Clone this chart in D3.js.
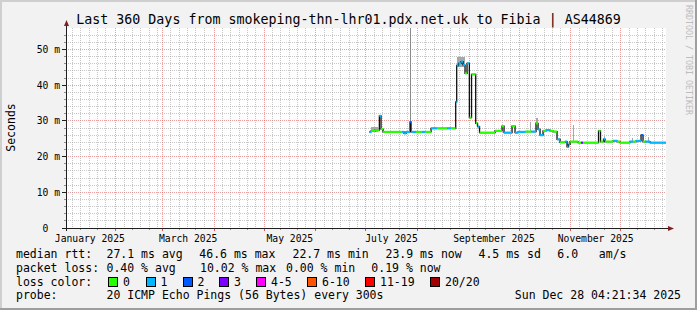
<!DOCTYPE html>
<html><head><meta charset="utf-8">
<script src="https://cdn.jsdelivr.net/npm/d3@7"></script>
<style>
html,body{margin:0;padding:0;background:#f2f2f2;}
svg{display:block;}
text{font-family:"DejaVu Sans Mono",monospace;white-space:pre;}
</style></head><body>
<svg id="chart" width="697" height="310"></svg>
<script>
// ---------------- DATA ----------------
// Time is expressed as day-of-year 2025 (Jan 1 00:00 UTC = 0)
const startDay = 1.1816;   // Jan 2 2025 04:21:34
const endDay = 361.1816;   // Dec 28 2025 04:21:34
const yMaxMs = 56;

// median RTT steps (ms), each holds until the next step starts
const stepDay = [183.0,184.2,186.6,189.2,190.2,191.4,202.8,204.0,205.2,207.6,
                 208.2,211.2,214.8,216.6,220.2,223.8,229.8,232.2,235.0,235.6,
                 236.7,238.2,239.4,240.6,241.8,243.2,244.5,247.0,248.1,249.3,
                 258.6,262.8,264.0,268.8,270.6,272.4,276.6,280.2,283.2,284.4,
                 285.6,287.4,289.2,291.6,293.4,295.8,297.6,300.6,301.8,302.7,
                 303.6,306.6,308.4,310.2,311.4,320.7,321.9,323.7,324.6,329.4,
                 331.8,333.6,339.6,341.4,343.2,346.2,347.4,348.6,351.6,354.6];
const medianMs = [26.9,27.2,27.4,31.4,27.7,26.9,26.9,26.5,26.9,29.7,
                  26.9,26.9,26.9,26.9,27.9,27.9,27.9,27.9,35.3,45.5,
                  46.1,46.6,45.6,43.3,46.1,30.9,43.0,29.3,28.4,26.7,
                  27.2,28.5,26.7,28.5,26.7,26.9,27.0,27.0,29.3,27.6,
                  26.0,27.2,27.4,27.2,27.0,24.8,24.0,24.2,22.7,23.4,
                  24.2,24.2,23.9,23.9,23.9,27.2,24.2,24.9,24.2,24.4,
                  24.2,23.9,24.2,24.2,24.4,26.0,24.2,24.2,23.9,23.9];
const lossCount = [1,0,0,1,0,0,1,1,1,2,
                   1,0,1,0,1,0,1,0,1,1,
                   1,1,1,0,1,0,0,0,1,0,
                   0,0,1,0,1,1,0,1,0,1,
                   1,0,1,0,0,1,0,1,1,1,
                   0,0,0,3,0,0,0,1,0,1,
                   0,0,1,0,1,2,0,1,1,1];

// smoke (ping spread) spots visible above the median
const smokeFrom = [184.2,207.6,236.0,279.6,283.2,305.4,324.3,340.8,350.4];
const smokeTo   = [188.4,208.0,240.6,280.2,284.4,306.0,324.9,341.4,351.0];
const smokeLo   = [26.8,26.9,45.0,27.0,29.0,24.2,24.2,24.2,24.2];
const smokeHi   = [28.3,60.0,48.0,29.8,30.8,28.8,25.7,25.3,25.6];

// loss legend
const lossLabels = ["0","1","2","3","4-5","6-10","11-19","20/20"];
const lossUpper  = [0,1,2,3,5,10,19,20];
const lossColors = ["#26ff00","#00b8ff","#0059ff","#7e00ff","#ff00ff","#ff5500","#ff0000","#a10000"];

// axes
const yTickValues = [0,10,20,30,40,50];
const yTickLabels = ["0  ","10 m","20 m","30 m","40 m","50 m"];
const xLabelMonths = [0,2,4,6,8,10];
const xLabelTexts = ["January 2025","March 2025","May 2025","July 2025","September 2025","November 2025"];

// texts
const titleText = "Last 360 Days from smokeping-thn-lhr01.pdx.net.uk to Fibia | AS44869";
const yAxisTitle = "Seconds";
const watermark = "RRDTOOL / TOBI OETIKER";
const row1 = ["median rtt:","27.1 ms avg","46.6 ms max","22.7 ms min","23.9 ms now","4.5 ms sd","6.0   am/s"];
const row2 = ["packet loss:","0.40 % avg","10.02 % max","0.00 % min","0.19 % now"];
const row3Label = "loss color:";
const row4 = ["probe:","20 ICMP Echo Pings (56 Bytes) every 300s"];
const stamp = "Sun Dec 28 04:21:34 2025";

// ---------------- LAYOUT ----------------
const W=697,H=310, X0=66, X1=666, YT=28, YB=228;
const row1X=[16,106.5,199.3,292.5,385.5,478.5,557.3];
const row2X=[16,106.5,200,286,371.3];
const boxX=[108,145.5,182.5,219,256,307,365,430];
const rowY=[258,271.7,285.5,299];

const svg=d3.select("#chart");
const dayMs=86400000, base=Date.UTC(2025,0,1);
const toDate=d=>new Date(base+d*dayMs);
const x=d3.scaleUtc().domain([toDate(startDay),toDate(endDay)]).range([X0,X1]);
const y=d3.scaleLinear().domain([0,yMaxMs]).range([YB,YT]);
const px=v=>Math.floor(v)+0.5;

// background and 3D frame
svg.append("rect").attr("width",W).attr("height",H).attr("fill","#f2f2f2");
svg.append("rect").attr("x",0).attr("y",0).attr("width",W).attr("height",2).attr("fill","#cfcfcf");
svg.append("rect").attr("x",0).attr("y",0).attr("width",2).attr("height",H).attr("fill","#cfcfcf");
svg.append("rect").attr("x",0).attr("y",H-2).attr("width",W).attr("height",2).attr("fill","#9e9e9e");
svg.append("rect").attr("x",W-2).attr("y",0).attr("width",2).attr("height",H).attr("fill","#9e9e9e");
svg.append("rect").attr("x",X0).attr("y",YT).attr("width",X1-X0).attr("height",YB-YT).attr("fill","#ffffff");

const minorCol="rgba(143,143,143,0.5)", majorCol="rgba(222,80,80,0.55)";
const grid=svg.append("g").attr("shape-rendering","crispEdges");

// horizontal grid
d3.range(2,yMaxMs,2).forEach(v=>{
  const yy=px(y(v)); const major=v%10===0;
  grid.append("line").attr("x1",X0).attr("x2",X1).attr("y1",yy).attr("y2",yy)
    .attr("stroke",major?majorCol:minorCol).attr("stroke-dasharray","1,1");
  grid.append("line").attr("x1",major?X0-4:X0-2).attr("x2",X0).attr("y1",yy).attr("y2",yy)
    .attr("stroke",major?"#1f1f1f":"#8f8f8f");
});

// vertical grid
const dom=x.domain();
const months=d3.utcMonth.range(d3.utcMonth.floor(dom[0]),dom[1]);
months.forEach(m=>{
  [5,10,15,20,25].forEach(k=>{
    const d=d3.utcDay.offset(m,k);
    if(d<dom[0]||d>dom[1]) return;
    const xx=px(x(d));
    grid.append("line").attr("x1",xx).attr("x2",xx).attr("y1",YT).attr("y2",YB)
      .attr("stroke",minorCol).attr("stroke-dasharray","1,1");
    if(k===10||k===20)
      grid.append("line").attr("x1",xx).attr("x2",xx).attr("y1",YB).attr("y2",YB+2).attr("stroke","#8f8f8f");
  });
  if(m>dom[0]){
    const xx=px(x(m));
    grid.append("line").attr("x1",xx).attr("x2",xx).attr("y1",YT).attr("y2",YB)
      .attr("stroke",majorCol).attr("stroke-dasharray","1,1");
    grid.append("line").attr("x1",xx).attr("x2",xx).attr("y1",YB).attr("y2",YB+3).attr("stroke","#de5050");
  }
});

// clip
svg.append("clipPath").attr("id","plotclip").append("rect")
  .attr("x",X0).attr("y",YT).attr("width",X1-X0).attr("height",YB-YT);
const plot=svg.append("g").attr("clip-path","url(#plotclip)");

// smoke
smokeFrom.forEach((s,i)=>{
  const xa=x(toDate(s)), xb=Math.max(x(toDate(smokeTo[i])),xa+1);
  plot.append("rect").attr("x",Math.floor(xa)).attr("width",Math.max(1,Math.round(xb-xa)))
    .attr("y",y(smokeHi[i])).attr("height",y(smokeLo[i])-y(smokeHi[i]))
    .attr("fill",i===1?"#8a8a8a":"#a8a8a8").attr("shape-rendering","crispEdges");
});

// median step line (black)
const pts=stepDay.map((d,i)=>[x(toDate(d)),y(medianMs[i])]);
pts.push([x(toDate(endDay)),y(medianMs[medianMs.length-1])]);
plot.append("path").attr("d",d3.line().curve(d3.curveStepAfter)(pts))
  .attr("fill","none").attr("stroke","#101010").attr("stroke-width",1.3);

// colored median segments by loss
const lossColor=n=>lossColors[lossUpper.findIndex(u=>n<=u)];
stepDay.forEach((d,i)=>{
  const xa=x(toDate(d)), xb=x(toDate(i+1<stepDay.length?stepDay[i+1]:endDay));
  const yy=y(medianMs[i]);
  plot.append("line").attr("x1",xa).attr("x2",xb).attr("y1",yy).attr("y2",yy)
    .attr("stroke",lossColor(lossCount[i])).attr("stroke-width",2.2);
});

// axes
svg.append("line").attr("x1",X0-4).attr("x2",X1+3).attr("y1",YB+0.5).attr("y2",YB+0.5)
  .attr("stroke","#1f1f1f").attr("shape-rendering","crispEdges");
svg.append("line").attr("x1",X0+0.5).attr("x2",X0+0.5).attr("y1",YB+3).attr("y2",YT-3)
  .attr("stroke","#1f1f1f").attr("shape-rendering","crispEdges");
svg.append("path").attr("d",`M${X0-2},${YT-2}L${X0+3},${YT-2}L${X0+0.5},${YT-8}Z`).attr("fill","#801f1f");
svg.append("path").attr("d",`M${X1+2},${YB-2}L${X1+2},${YB+3}L${X1+8},${YB+0.5}Z`).attr("fill","#801f1f");

// tick labels
yTickValues.forEach((v,i)=>{
  svg.append("text").attr("x",60).attr("y",px(y(v))+3.5).attr("text-anchor","end")
    .attr("font-size","9.7px").attr("fill","#000").text(yTickLabels[i]);
});
xLabelMonths.forEach((mi,i)=>{
  const a=Date.UTC(2025,mi,1), b=Date.UTC(2025,mi+1,1);
  svg.append("text").attr("x",x(new Date((a+b)/2))).attr("y",242).attr("text-anchor","middle")
    .attr("font-size","9.7px").attr("fill","#000").text(xLabelTexts[i]);
});

// title, y label, watermark
svg.append("text").attr("x",348.5).attr("y",24).attr("text-anchor","middle")
  .attr("font-size","13.3px").attr("fill","#000").text(titleText);
svg.append("text").attr("transform","translate(14.5,127.5) rotate(-90)").attr("text-anchor","middle")
  .attr("font-size","11.5px").attr("fill","#000").text(yAxisTitle);
svg.append("text").attr("transform","translate(685.5,5) rotate(90)")
  .attr("font-size","8.3px").attr("fill","#bdbdbd").text(watermark);

// legend
const lg=svg.append("g").attr("font-size","11.5px").attr("fill","#000");
row1.forEach((t,i)=>lg.append("text").attr("x",row1X[i]).attr("y",rowY[0]).text(t));
row2.forEach((t,i)=>lg.append("text").attr("x",row2X[i]).attr("y",rowY[1]).text(t));
lg.append("text").attr("x",16).attr("y",rowY[2]).text(row3Label);
lossLabels.forEach((t,i)=>{
  lg.append("rect").attr("x",boxX[i]+0.5).attr("y",rowY[2]-8.5).attr("width",9).attr("height",9)
    .attr("fill",lossColors[i]).attr("stroke","#000").attr("shape-rendering","crispEdges");
  lg.append("text").attr("x",boxX[i]+15).attr("y",rowY[2]).text(t);
});
lg.append("text").attr("x",16).attr("y",rowY[3]).text(row4[0]);
lg.append("text").attr("x",106.5).attr("y",rowY[3]).text(row4[1]);
lg.append("text").attr("x",681).attr("y",rowY[3]).attr("text-anchor","end").text(stamp);
</script>
</body></html>
